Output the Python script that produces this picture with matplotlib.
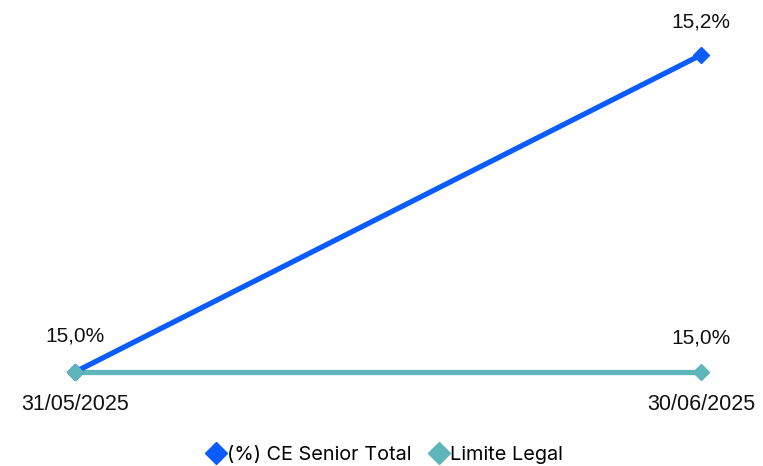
import matplotlib
matplotlib.use("Agg")
import matplotlib.pyplot as plt
from matplotlib.lines import Line2D

dates = ["31/05/2025", "30/06/2025"]
ce_senior = [15.0, 15.2]
limite_legal = [15.0, 15.0]
ce_labels = ["15,0%", "15,2%"]
lim_labels = ["", "15,0%"]

blue = "#0b5cff"
teal = "#5fb6ba"

plt.rcParams['font.family'] = ['Liberation Sans', 'DejaVu Sans']

fig = plt.figure(figsize=(7.63, 4.66), dpi=100)
ax = fig.add_axes([75 / 763, (466 - 372) / 466, (701 - 75) / 763, (372 - 55) / 466])

x = list(range(len(dates)))
ax.plot(x, limite_legal, color=teal, lw=3.8, marker="D", ms=8, clip_on=False, zorder=2)
ax.plot(x, ce_senior, color=blue, lw=3.8, marker="D", ms=8, clip_on=False, zorder=3)
# first blue marker is hidden under the teal one in the reference
ax.plot([x[0]], [limite_legal[0]], color=teal, marker="D", ms=8, ls="none", clip_on=False, zorder=4)

ax.set_xlim(0, 1)
ax.set_ylim(15.0, 15.2)
ax.axis("off")

for xi, yi, t in zip(x, ce_senior, ce_labels):
    ax.annotate(t, (xi, yi), xytext=(0, 24 if xi else 26), textcoords="offset points",
                ha="center", va="center", fontsize=15, color="#111111")
for xi, yi, t in zip(x, limite_legal, lim_labels):
    if t:
        ax.annotate(t, (xi, yi), xytext=(0, 24.5), textcoords="offset points",
                    ha="center", va="center", fontsize=15, color="#111111")
for xi, d in zip(x, dates):
    ax.annotate(d, (xi, 15.0), xytext=(0, -23.5), textcoords="offset points",
                ha="center", va="center", fontsize=15.5, color="#111111")

handles = [Line2D([], [], color=blue, marker="D", ls="none", ms=11),
           Line2D([], [], color=teal, marker="D", ls="none", ms=11)]
fig.legend(handles, ["(%) CE Senior Total", "Limite Legal"], loc="center",
           bbox_to_anchor=(384 / 763, 1 - 455 / 466), ncol=2, frameon=False,
           handletextpad=0.0, columnspacing=0.8, handlelength=1.1,
           prop={'family': ['Inter', 'DejaVu Sans'], 'size': 14.3})

fig.savefig("out.png", dpi=100)
